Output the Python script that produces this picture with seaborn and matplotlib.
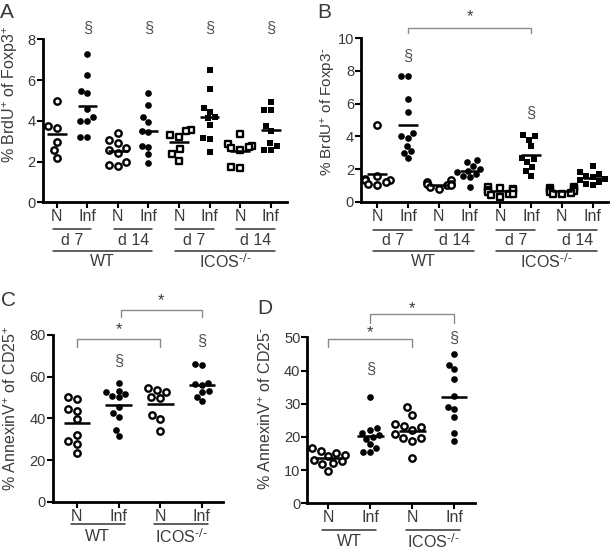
import numpy as np
import pandas as pd
import matplotlib
matplotlib.use('Agg')
import matplotlib.pyplot as plt
import matplotlib.transforms as mtransforms
import seaborn as sns

# ---- data ----
# A: % BrdU+ of Foxp3+
a_wt7_n = [4.99, 3.74, 3.63, 2.98, 2.57, 2.16]
a_wt7_inf = [7.28, 6.25, 5.48, 5.35, 4.58, 4.20, 3.99, 3.99, 3.19, 3.19]
a_wt14_n = [3.42, 3.06, 2.90, 2.65, 2.57, 2.41, 1.99, 1.78, 1.83]
a_wt14_inf = [5.38, 4.78, 4.17, 3.96, 3.52, 3.47, 2.76, 2.73, 2.36, 1.91]
a_ko7_n = [3.55, 3.50, 3.30, 3.20, 2.60, 2.35, 2.05]
a_ko7_inf = [6.49, 5.55, 4.65, 4.45, 4.20, 4.12, 3.79, 3.17, 3.09, 2.47]
a_ko14_n = [3.35, 2.85, 2.75, 2.70, 2.65, 2.55, 1.75, 1.70]
a_ko14_inf = [4.94, 4.53, 4.53, 3.75, 3.50, 2.90, 2.75, 2.57, 2.55]

# B: % BrdU+ of Foxp3-
b_wt7_n = [4.7, 1.6, 1.4, 1.3, 1.3, 1.2, 1.1, 1.0]
b_wt7_inf = [7.7, 7.7, 6.3, 5.5, 4.2, 4.0, 3.9, 3.4, 3.1, 3.0, 2.65]
b_wt14_n = [1.3, 1.2, 1.1, 1.1, 1.0, 1.0, 0.9, 0.8]
b_wt14_inf = [2.55, 2.4, 2.2, 2.0, 1.9, 1.8, 1.7, 1.6, 1.5, 0.9]
b_ko7_n = [0.9, 0.85, 0.8, 0.7, 0.7, 0.6, 0.5, 0.5, 0.4, 0.3]
b_ko7_inf = [4.1, 4.0, 3.8, 3.4, 2.7, 2.6, 2.4, 2.1, 1.9, 1.6]
b_ko14_n = [0.9, 0.85, 0.8, 0.7, 0.65, 0.6, 0.55, 0.5, 0.45]
b_ko14_inf = [2.2, 1.8, 1.7, 1.6, 1.5, 1.4, 1.3, 1.2, 1.1, 1.0]

# C: % AnnexinV+ of CD25+
c_wt_n = [50.4, 49.1, 44.3, 43.7, 39.5, 32.0, 29.3, 27.7, 23.5]
c_wt_inf = [56.8, 53.3, 52.8, 51.7, 50.7, 50.1, 45.3, 42.4, 40.5, 34.4, 31.5]
c_ko_n = [54.4, 53.6, 52.8, 50.1, 49.6, 41.6, 39.5, 33.9]
c_ko_inf = [65.6, 66.1, 57.1, 56.5, 56.0, 52.8, 53.3, 50.4, 48.3]

# D: % AnnexinV+ of CD25-
d_wt_n = [16.6, 15.9, 15.3, 14.6, 14.1, 13.1, 12.6, 12.0, 11.8, 9.8]
d_wt_inf = [31.9, 22.6, 22.1, 21.1, 20.6, 20.1, 19.5, 17.9, 16.6, 15.6, 15.6]
d_ko_n = [28.9, 26.7, 23.9, 23.4, 22.9, 22.1, 21.0, 19.6, 19.6, 18.9, 13.6]
d_ko_inf = [45.0, 41.7, 40.4, 37.3, 32.3, 29.1, 28.3, 25.9, 21.1, 18.8]

cond_labels = ['N', 'Inf']
day_labels = ['d 7', 'd 14']
strain_labels = ['WT', r'ICOS$^{\text{-/-}}$']

TXT = '#3a3a3a'

sns.set_style('ticks')
plt.rcParams['font.family'] = ['Liberation Sans', 'DejaVu Sans']
plt.rcParams['mathtext.default'] = 'regular'

fig = plt.figure(figsize=(6.12, 5.51), dpi=100)
W, H = 612.0, 551.0


def px_axes(l, r, t, b):
    return fig.add_axes([l / W, 1 - b / H, (r - l) / W, (b - t) / H])


styles = {
    'oc': dict(marker='o', color='white', edgecolor='black', linewidth=1.7, size=4.6),
    'fc': dict(marker='o', color='black', linewidth=0, size=4.8),
    'os': dict(marker='s', color='white', edgecolor='black', linewidth=1.7, size=4.6),
    'fs': dict(marker='s', color='black', linewidth=0, size=5.0),
}


def dot_panel(ax, groups, kinds, ylim, yticks, xlim):
    order = ['g%d' % i for i in range(len(groups))]
    df = pd.DataFrame([(order[i], v) for i, vals in enumerate(groups) for v in vals],
                      columns=['grp', 'val'])
    for k in dict.fromkeys(kinds):
        names = [n for n, kk in zip(order, kinds) if kk == k]
        sns.swarmplot(data=df[df['grp'].isin(names)], x='grp', y='val', order=order,
                      ax=ax, zorder=3, **styles[k])
    means = df.groupby('grp')['val'].mean().reindex(order).values
    pos = np.arange(len(order))
    ax.hlines(means, pos - 0.32, pos + 0.32, color='black', lw=1.8, zorder=5)
    ax.set_ylim(*ylim)
    ax.set_yticks(yticks)
    ax.set_xlim(*xlim)
    ax.set_xticks(pos)
    ax.set_xticklabels((cond_labels * 4)[:len(order)])
    ax.set_xlabel('')
    ax.set_ylabel('')
    for s in ['top', 'right']:
        ax.spines[s].set_visible(False)
    for s in ['left', 'bottom']:
        ax.spines[s].set_linewidth(2)
        ax.spines[s].set_color('black')
    ax.tick_params(axis='both', direction='out', length=4, width=1.5, color='black')
    ax.tick_params(axis='y', labelsize=10.5, labelcolor=TXT, pad=1)
    ax.tick_params(axis='x', labelsize=11.5, labelcolor=TXT, pad=1)


def under_tr(ax, dy):
    base = mtransforms.blended_transform_factory(ax.transData, ax.transAxes)
    return mtransforms.offset_copy(base, fig=fig, y=-dy, units='dots')


def underline(ax, x0, x1, dy):
    ax.plot([x0, x1], [0, 0], transform=under_tr(ax, dy), clip_on=False,
            color='#333333', lw=1.1)


def undertext(ax, x, dy, s):
    ax.text(x, 0, s, transform=under_tr(ax, dy), ha='center', va='center',
            fontsize=11.5, color=TXT)


def bracket(ax, x0, x1, ytop, ydrop, ystar):
    ax.plot([x0, x0, x1, x1], [ydrop, ytop, ytop, ydrop], color='#8a8a8a', lw=1,
            clip_on=False)
    ax.text((x0 + x1) / 2, ystar, '*', ha='center', va='center', fontsize=12,
            color=TXT, clip_on=False)


def sect(ax, x, y):
    ax.text(x, y, '§', ha='center', va='center', fontsize=12, color='#555555',
            clip_on=False)


kinds8 = ['oc', 'fc', 'oc', 'fc', 'os', 'fs', 'os', 'fs']
kinds4 = ['oc', 'fc', 'oc', 'fc']

# ---- A ----
axA = px_axes(42.7, 287, 39.3, 202.3)
dot_panel(axA, [a_wt7_n, a_wt7_inf, a_wt14_n, a_wt14_inf,
                a_ko7_n, a_ko7_inf, a_ko14_n, a_ko14_inf],
          kinds8, (0, 8), [0, 2, 4, 6, 8], (-0.46, 7.53))
for i in range(4):
    underline(axA, 2 * i - 0.13, 2 * i + 1.13, 26.5)
    undertext(axA, 2 * i + 0.5, 38, day_labels[i % 2])
    sect(axA, 2 * i + 1, 8.55)
for j in range(2):
    underline(axA, 4 * j - 0.13, 4 * j + 3.13, 48.5)
    undertext(axA, 4 * j + 1.5, 59, strain_labels[j])

# ---- B ----
axB = px_axes(361, 608, 38.3, 201.7)
dot_panel(axB, [b_wt7_n, b_wt7_inf, b_wt14_n, b_wt14_inf,
                b_ko7_n, b_ko7_inf, b_ko14_n, b_ko14_inf],
          kinds8, (0, 10), [0, 2, 4, 6, 8, 10], (-0.53, 7.5))
for i in range(4):
    underline(axB, 2 * i - 0.13, 2 * i + 1.13, 28)
    undertext(axB, 2 * i + 0.5, 39, day_labels[i % 2])
for j in range(2):
    underline(axB, 4 * j - 0.13, 4 * j + 3.13, 49)
    undertext(axB, 4 * j + 1.5, 60, strain_labels[j])
sect(axB, 1, 8.9)
sect(axB, 5, 5.4)
bracket(axB, 1, 5, 10.62, 10.31, 11.3)

# ---- C ----
axC = px_axes(52.7, 222.7, 335, 501.7)
dot_panel(axC, [c_wt_n, c_wt_inf, c_ko_n, c_ko_inf], kinds4,
          (0, 80), [0, 20, 40, 60, 80], (-0.58, 3.5))
for j in range(2):
    underline(axC, 2 * j - 0.15, 2 * j + 1.15, 22.5)
    undertext(axC, 2 * j + 0.5, 35, strain_labels[j])
sect(axC, 1, 67.2)
sect(axC, 3, 76.8)
bracket(axC, 0, 2, 77.9, 74.4, 82.6)
bracket(axC, 1.05, 3, 92.0, 88.5, 96.6)

# ---- D ----
axD = px_axes(307.3, 475, 337.3, 503.3)
dot_panel(axD, [d_wt_n, d_wt_inf, d_ko_n, d_ko_inf], kinds4,
          (0, 50), [0, 10, 20, 30, 40, 50], (-0.5, 3.5))
for j in range(2):
    underline(axD, 2 * j - 0.15, 2 * j + 1.15, 26.5)
    undertext(axD, 2 * j + 0.5, 38, strain_labels[j])
sect(axD, 1, 40.2)
sect(axD, 3, 49.7)
bracket(axD, 0, 2, 49.4, 47.2, 51.3)
bracket(axD, 1, 3, 57.0, 54.4, 58.6)

# ---- y labels and panel letters ----
ylabels = [
    (10, 94, r'% BrdU$^{+}$ of Foxp3$^{+}$', 11.5),
    (328, 112, r'% BrdU$^{+}$ of Foxp3$^{\text{-}}$', 11),
    (11, 408, r'% AnnexinV$^{+}$ of CD25$^{+}$', 11.5),
    (266, 408, r'% AnnexinV$^{+}$ of CD25$^{\text{-}}$', 11.5),
]
for x, y, s, fs in ylabels:
    fig.text(x / W, 1 - y / H, s, rotation=90, ha='center', va='center',
             fontsize=fs, color=TXT)

for x, y, s in [(7, 13, 'A'), (324, 12, 'B'), (8, 300, 'C'), (265, 308, 'D')]:
    fig.text(x / W, 1 - y / H, s, ha='center', va='center', fontsize=15, color=TXT)

fig.savefig('out.png', dpi=100)
